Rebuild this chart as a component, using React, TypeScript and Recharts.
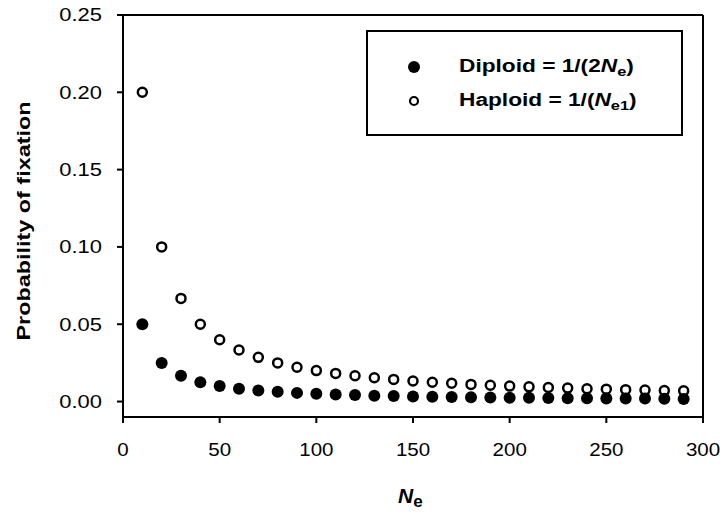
import React from 'react';
import { ScatterChart, Scatter, XAxis, YAxis, ReferenceLine } from 'recharts';

const neValues = [10, 20, 30, 40, 50, 60, 70, 80, 90, 100, 110, 120, 130, 140, 150, 160, 170, 180, 190, 200, 210, 220, 230, 240, 250, 260, 270, 280, 290];
const diploidValues = [0.05, 0.025, 0.0167, 0.0125, 0.01, 0.0083, 0.0071, 0.0063, 0.0056, 0.005, 0.0045, 0.0042, 0.0038, 0.0036, 0.0033, 0.0031, 0.0029, 0.0028, 0.0026, 0.0025, 0.0024, 0.0023, 0.0022, 0.0021, 0.002, 0.0019, 0.0019, 0.0018, 0.0017];
const haploidValues = [0.2, 0.1, 0.0667, 0.05, 0.04, 0.0333, 0.0286, 0.025, 0.0222, 0.02, 0.0182, 0.0167, 0.0154, 0.0143, 0.0133, 0.0125, 0.0118, 0.0111, 0.0105, 0.01, 0.0095, 0.0091, 0.0087, 0.0083, 0.008, 0.0077, 0.0074, 0.0071, 0.0069];
const xTicks = [0, 50, 100, 150, 200, 250, 300];
const yTicks = [0, 0.05, 0.1, 0.15, 0.2, 0.25];

const diploidData = neValues.map((ne, i) => ({ ne, p: diploidValues[i] }));
const haploidData = neValues.map((ne, i) => ({ ne, p: haploidValues[i] }));

const FONT = '"Liberation Sans", Arial, sans-serif';

const FilledDot = (props: any) => <circle cx={props.cx} cy={props.cy} r={6} fill="#000" />;
const OpenDot = (props: any) => (
  <circle cx={props.cx} cy={props.cy} r={4.5} fill="#fff" stroke="#000" strokeWidth={2.5} />
);

const YTick = (props: any) => {
  const { x, y, payload } = props;
  return (
    <g transform={`translate(${x},${y})`}>
      <text transform="scale(1.22,1)" textAnchor="end" dy="0.36em" fontFamily={FONT} fontSize={18} fill="#000">
        {Number(payload.value).toFixed(2)}
      </text>
    </g>
  );
};

const XTick = (props: any) => {
  const { x, y, payload } = props;
  return (
    <g transform={`translate(${x},${y})`}>
      <text transform="scale(1.08,1)" textAnchor="middle" dy="0.71em" fontFamily={FONT} fontSize={19} fill="#000">
        {payload.value}
      </text>
    </g>
  );
};

const YLabel = (props: any) => {
  const vb = props.viewBox;
  const cx = 24;
  const cy = vb.y + vb.height / 2 + 5;
  return (
    <text
      transform={`translate(${cx},${cy}) rotate(-90) scale(1.3,1)`}
      textAnchor="middle"
      dy="0.36em"
      fontFamily={FONT}
      fontWeight="bold"
      fontSize={18}
      fill="#000"
    >
      Probability of fixation
    </text>
  );
};

const XLabel = (props: any) => {
  const vb = props.viewBox;
  const cx = vb.x + vb.width / 2 - 15;
  const y = vb.y + 86;
  return (
    <text x={cx} y={y} fontFamily={FONT} fontWeight="bold" fontSize={21} fill="#000">
      <tspan fontStyle="italic">N</tspan>
      <tspan fontSize={17} dy={4}>e</tspan>
    </text>
  );
};

const LegendBox = () => {
  const rowStyle: React.CSSProperties = {
    position: 'absolute',
    left: 39,
    height: 24,
    display: 'flex',
    alignItems: 'center',
    whiteSpace: 'nowrap',
  };
  const textStyle: React.CSSProperties = {
    display: 'inline-block',
    transform: 'scale(1.26,1)',
    transformOrigin: 'left center',
    lineHeight: '24px',
  };
  return (
    <div
      style={{
        position: 'absolute',
        left: 366,
        top: 30,
        width: 313,
        height: 102,
        border: '2px solid #000',
        background: '#fff',
        fontFamily: FONT,
        fontWeight: 'bold',
        fontSize: 18,
        color: '#000',
      }}
    >
      <div style={{ ...rowStyle, top: 23 }}>
        <svg width={14} height={14} style={{ marginRight: 38 }}>
          <circle cx={7} cy={7} r={6} fill="#000" />
        </svg>
        <span style={textStyle}>
          Diploid = 1/(2<i>N</i>
          <span style={{ fontSize: 13, position: 'relative', top: 4 }}>e</span>)
        </span>
      </div>
      <div style={{ ...rowStyle, top: 57 }}>
        <svg width={14} height={14} style={{ marginRight: 38 }}>
          <circle cx={7} cy={7} r={4} fill="#fff" stroke="#000" strokeWidth={2.2} />
        </svg>
        <span style={textStyle}>
          Haploid = 1/(<i>N</i>
          <span style={{ fontSize: 13, position: 'relative', top: 4 }}>e1</span>)
        </span>
      </div>
    </div>
  );
};

export default function App() {
  return (
    <div style={{ position: 'absolute', left: 0, top: 0, width: 720, height: 517, background: '#fff' }}>
      <ScatterChart width={720} height={517} margin={{ top: 15, right: 17, bottom: 0, left: 0 }}>
        <XAxis
          type="number"
          dataKey="ne"
          domain={[0, 300]}
          ticks={xTicks}
          height={100}
          stroke="#000"
          strokeWidth={2}
          tickSize={6}
          tickMargin={20}
          tick={<XTick />}
          label={<XLabel />}
        />
        <YAxis
          type="number"
          dataKey="p"
          domain={[-0.01, 0.25]}
          ticks={yTicks}
          width={123}
          stroke="#000"
          strokeWidth={2}
          tickSize={6}
          tickMargin={15}
          tick={<YTick />}
          label={<YLabel />}
        />
        <ReferenceLine y={0.25} stroke="#000" strokeWidth={2} />
        <ReferenceLine x={300} stroke="#000" strokeWidth={2} />
        <Scatter name="Haploid" data={haploidData} shape={<OpenDot />} isAnimationActive={false} />
        <Scatter name="Diploid" data={diploidData} shape={<FilledDot />} isAnimationActive={false} />
      </ScatterChart>
      <LegendBox />
    </div>
  );
}
